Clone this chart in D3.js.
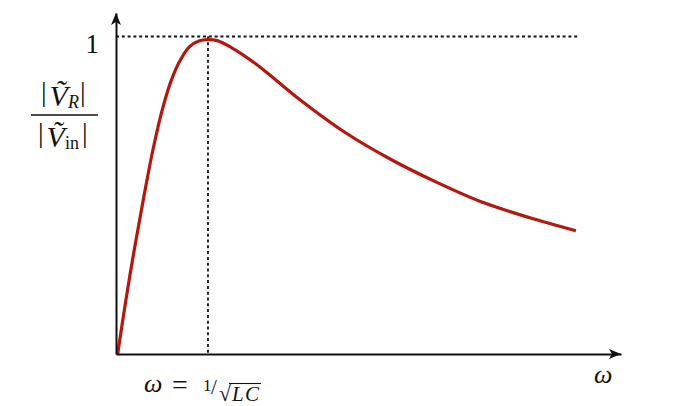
<!DOCTYPE html>
<html>
<head>
<meta charset="utf-8">
<script src="https://cdn.jsdelivr.net/npm/d3@7"></script>
<style>
body{margin:0;background:#fff}
text{font-family:"Liberation Serif","Times New Roman",serif;fill:#111}
</style>
</head>
<body>
<div id="chart"></div>
<script>
// omega in units of 1/sqrt(LC), ratio = |V_R| / |V_in|
const omega = [0.018, 0.1, 0.2, 0.3, 0.4, 0.5, 0.6, 0.7, 0.8, 0.9, 1.0, 1.1, 1.25, 1.5, 1.75, 2.0, 2.5, 3.0, 3.5, 4.0, 4.5, 5.0];
const ratio = [0, 0.156, 0.331, 0.491, 0.641, 0.766, 0.861, 0.926, 0.968, 0.986, 0.990, 0.987, 0.966, 0.918, 0.860, 0.801, 0.696, 0.611, 0.539, 0.476, 0.429, 0.388];
const yTicks = [1];
const resonance = 1;     // omega = 1/sqrt(LC)
const guideEnd = 5.02;   // where the dotted line at 1 stops

const data = omega.map((w,i)=>({w:w, r:ratio[i]}));

const width = 685;
const height = 406;
const margin = {top:13, bottom:52, left:116, right:64};

const svg = d3.select('#chart')
.append('svg')
.attr('width', width)
.attr('height', height);

const x = d3.scaleLinear()
.domain([0, 5.49])
.range([margin.left, width - margin.right]);

const y = d3.scaleLinear()
.domain([0, 1.074])
.range([height - margin.bottom, margin.top]);

// dotted guides
svg.append('line')
.attr('x1', x(0)).attr('x2', x(guideEnd))
.attr('y1', y(1)).attr('y2', y(1))
.attr('stroke', '#111').attr('stroke-width', 1.8).attr('stroke-dasharray', '3,2.8');

svg.append('line')
.attr('x1', x(resonance)).attr('x2', x(resonance))
.attr('y1', y(1)).attr('y2', y(0))
.attr('stroke', '#111').attr('stroke-width', 1.8).attr('stroke-dasharray', '3,2.8');

// curve
const line = d3.line()
.x(d=>x(d.w))
.y(d=>y(d.r))
.curve(d3.curveCatmullRom.alpha(0.5));

svg.append('path')
.datum(data)
.attr('fill', 'none')
.attr('stroke', '#b3180c')
.attr('stroke-width', 3.2)
.attr('d', line);

// axes
function yAxis(g){
    g.attr('transform', `translate(${x(0)},0)`)
    .call(d3.axisLeft(y).tickValues(yTicks).tickSize(0).tickSizeOuter(0).tickPadding(17).tickFormat(d3.format('d')))
    g.select('.domain').attr('stroke', '#111').attr('stroke-width', 2);
    g.selectAll('text').attr('font-size', 27).attr('font-family', '"Liberation Serif", serif').attr('fill', '#111').attr('dy', 16);
}

function xAxis(g){
    g.attr('transform', `translate(0,${y(0)})`)
    .call(d3.axisBottom(x).tickValues([]).tickSizeOuter(0))
    g.select('.domain').attr('stroke', '#111').attr('stroke-width', 2);
}

svg.append('g').call(yAxis);
svg.append('g').call(xAxis);

// arrow heads
const xe = x.range()[1], ye = y.range()[1];
svg.append('path')
.attr('d', `M${xe},${y(0)} L${xe-12},${y(0)-5} L${xe-9},${y(0)} L${xe-12},${y(0)+5} Z`)
.attr('fill', '#111');
svg.append('path')
.attr('d', `M${x(0)},${ye} L${x(0)-5},${ye+12} L${x(0)},${ye+9} L${x(0)+5},${ye+12} Z`)
.attr('fill', '#111');

// y label: |V~_R| / |V~_in|, one text element per row
const lab = svg.append('g');
function row(x0, yb, sub, subItalic, subW){
    const tx = lab.append('text').attr('y', yb).attr('font-size', 28);
    tx.append('tspan').attr('x', x0).attr('dy', -5).text('|');
    tx.append('tspan').attr('dx', 3).attr('dy', 5).attr('font-size', 30).attr('font-style', 'italic').text('V\u0303');
    tx.append('tspan').attr('dx', 0).attr('dy', 2).attr('font-size', 18)
    .attr('font-style', subItalic ? 'italic' : 'normal').text(sub);
    tx.append('tspan').attr('dx', subW).attr('dy', -7).text('|');
    return tx;
}
row(41, 106, 'R', true, 1);
lab.append('line').attr('x1', 31).attr('x2', 98).attr('y1', 115).attr('y2', 115)
.attr('stroke', '#111').attr('stroke-width', 1.6);
row(38, 147, 'in', false, 3);

function t(xp, yp, s, size, italic){
    return lab.append('text').attr('x', xp).attr('y', yp).attr('font-size', size)
    .attr('font-style', italic ? 'italic' : 'normal').text(s);
}

// x labels
t(594, 383, 'ω', 26, true);
t(144, 392, 'ω', 26, true);
t(172, 394, '=', 28);
t(203, 391, '1', 17);
t(211, 394, '/', 21);
t(219, 401, '√', 22);
lab.append('line').attr('x1', 229).attr('x2', 261).attr('y1', 383.5).attr('y2', 383.5)
.attr('stroke', '#111').attr('stroke-width', 1.1);
t(232, 401, 'LC', 21, true).attr('letter-spacing', 1.2);
</script>
</body>
</html>
